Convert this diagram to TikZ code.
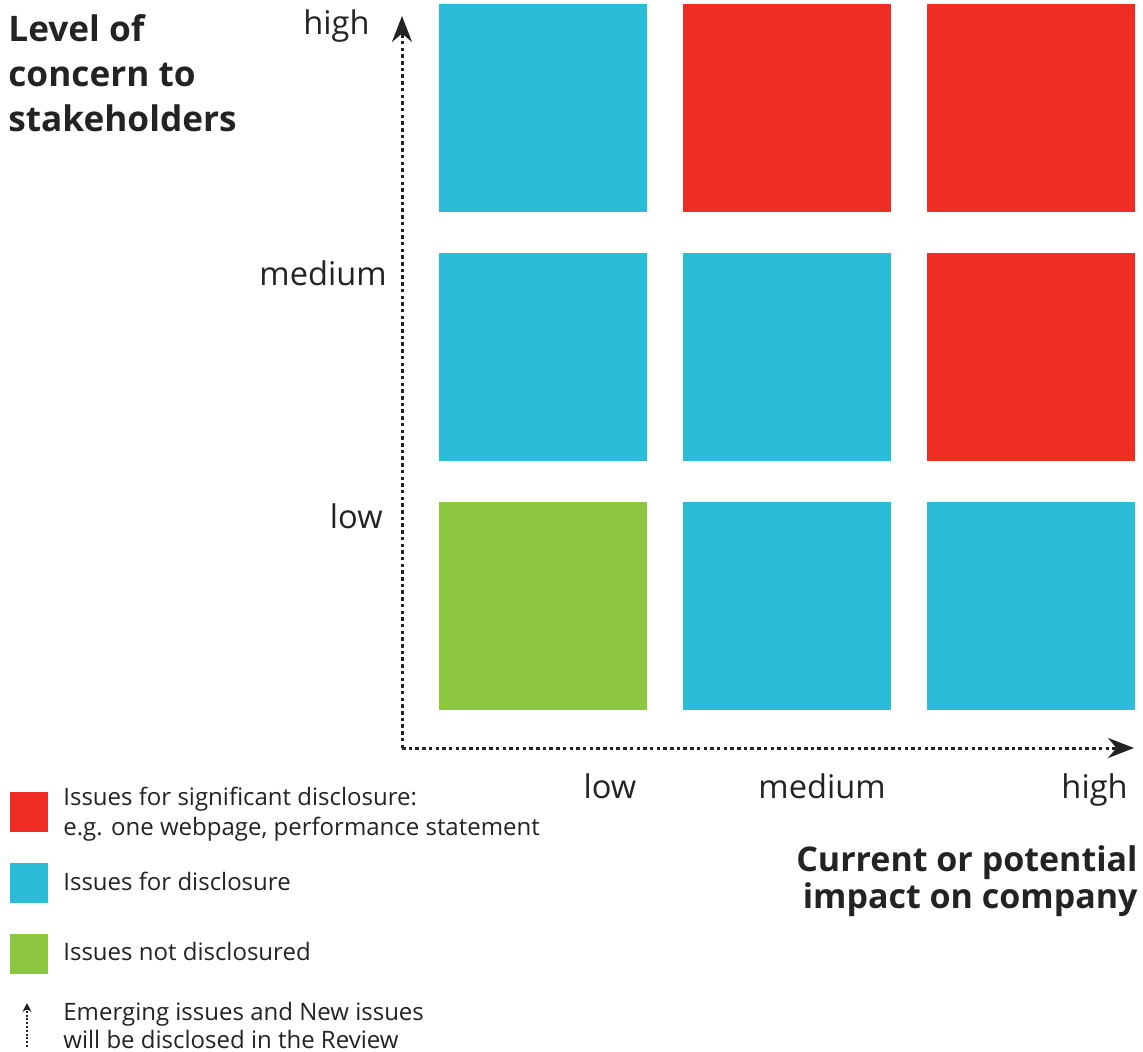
\documentclass[tikz,border=0pt]{standalone}
\usepackage{fontspec}
\setmainfont{Open Sans}
\usepackage{xcolor}
\usetikzlibrary{positioning,arrows.meta}

\definecolor{sigred}{HTML}{EE2E24}
\definecolor{discblue}{HTML}{2BBCD8}
\definecolor{nogreen}{HTML}{8DC63F}
\definecolor{ink}{HTML}{232323}

\begin{document}
\begin{tikzpicture}[
  x=0.5pt, y=-0.5pt,
  text=ink,
  cell/.style={minimum size=104pt, inner sep=0pt, outer sep=0pt},
  key/.style={minimum width=19pt, minimum height=20pt, inner sep=0pt},
  lvl/.style={font=\fontsize{16.3}{19}\selectfont, inner sep=0pt},
  keytext/.style={font=\fontsize{12}{15}\selectfont, align=left,
                  inner sep=0pt, anchor=base west},
  axistitle/.style={font=\fontsize{17.6}{22.5}\selectfont\bfseries,
                    inner sep=0pt},
  axis/.style={draw=ink, line width=1.5pt, dash pattern=on 1.75pt off 1.6pt,
               -{Stealth[length=13pt,width=10pt]}},
  minor/.style={draw=ink, line width=0.7pt, dash pattern=on 1pt off 0.9pt,
                -{Stealth[length=4.5pt,width=4.5pt]}}
]
\useasboundingbox (0,0) rectangle (1143,1052);

% materiality grid: rows = concern, columns = impact
\node[cell, fill=discblue] (high-low) at (543,108) {};
\node[cell, fill=sigred, right=18pt of high-low] (high-med) {};
\node[cell, fill=sigred, right=18pt of high-med] (high-high) {};
\node[cell, fill=discblue, below=20.5pt of high-low] (med-low) {};
\node[cell, fill=discblue, right=18pt of med-low] (med-med) {};
\node[cell, fill=sigred, right=18pt of med-med] (med-high) {};
\node[cell, fill=nogreen, below=20.5pt of med-low] (low-low) {};
\node[cell, fill=discblue, right=18pt of low-low] (low-med) {};
\node[cell, fill=discblue, right=18pt of low-med] (low-high) {};

% axes
\coordinate (origin) at (402,748);
\coordinate (ytip) at (402,16);
\coordinate (xtip) at (1134,748);
\draw[axis] (origin) -- (ytip);
\draw[axis] (origin) -- (xtip);

\node[lvl, anchor=base east] (yhigh) at (370,35) {high};
\node[lvl, anchor=base east] (ymed) at (387,286) {medium};
\node[lvl, anchor=base east] (ylow) at (383,528) {low};
\node[lvl, anchor=base] (xlow) at (610,798) {low};
\node[lvl, anchor=base] (xmed) at (822,798) {medium};
\node[lvl, anchor=base east] (xhigh) at (1128,798) {high};

% multi-line nodes sit on their last baseline
\node[axistitle, anchor=base west, align=left] (ytitle) at (8,132)
  {Level of\\concern to\\stakeholders};
\node[axistitle, anchor=base east, align=right,
      font=\fontsize{17}{18.5}\selectfont\bfseries] (xtitle) at (1138,908)
  {Current or potential\\impact on company};

% legend
\node[key, fill=sigred] (keyred) at (29,812) {};
\node[key, fill=discblue] (keyblue) at (29,882.5) {};
\node[key, fill=nogreen] (keygreen) at (29,954) {};
\coordinate (newfoot) at (27,1047);
\coordinate (newtip) at (27,1003);
\draw[minor] (newfoot) -- (newtip);

\node[keytext] (txtred) at (63,835)
  {Issues for significant disclosure:\\e.g. one webpage, performance statement};
\node[keytext] (txtblue) at (63,890) {Issues for disclosure};
\node[keytext] (txtgreen) at (63,960) {Issues not disclosured};
\node[keytext, font=\fontsize{12}{14}\selectfont] (txtnew) at (63,1048)
  {Emerging issues and New issues\\will be disclosed in the Review};
\end{tikzpicture}
\end{document}
